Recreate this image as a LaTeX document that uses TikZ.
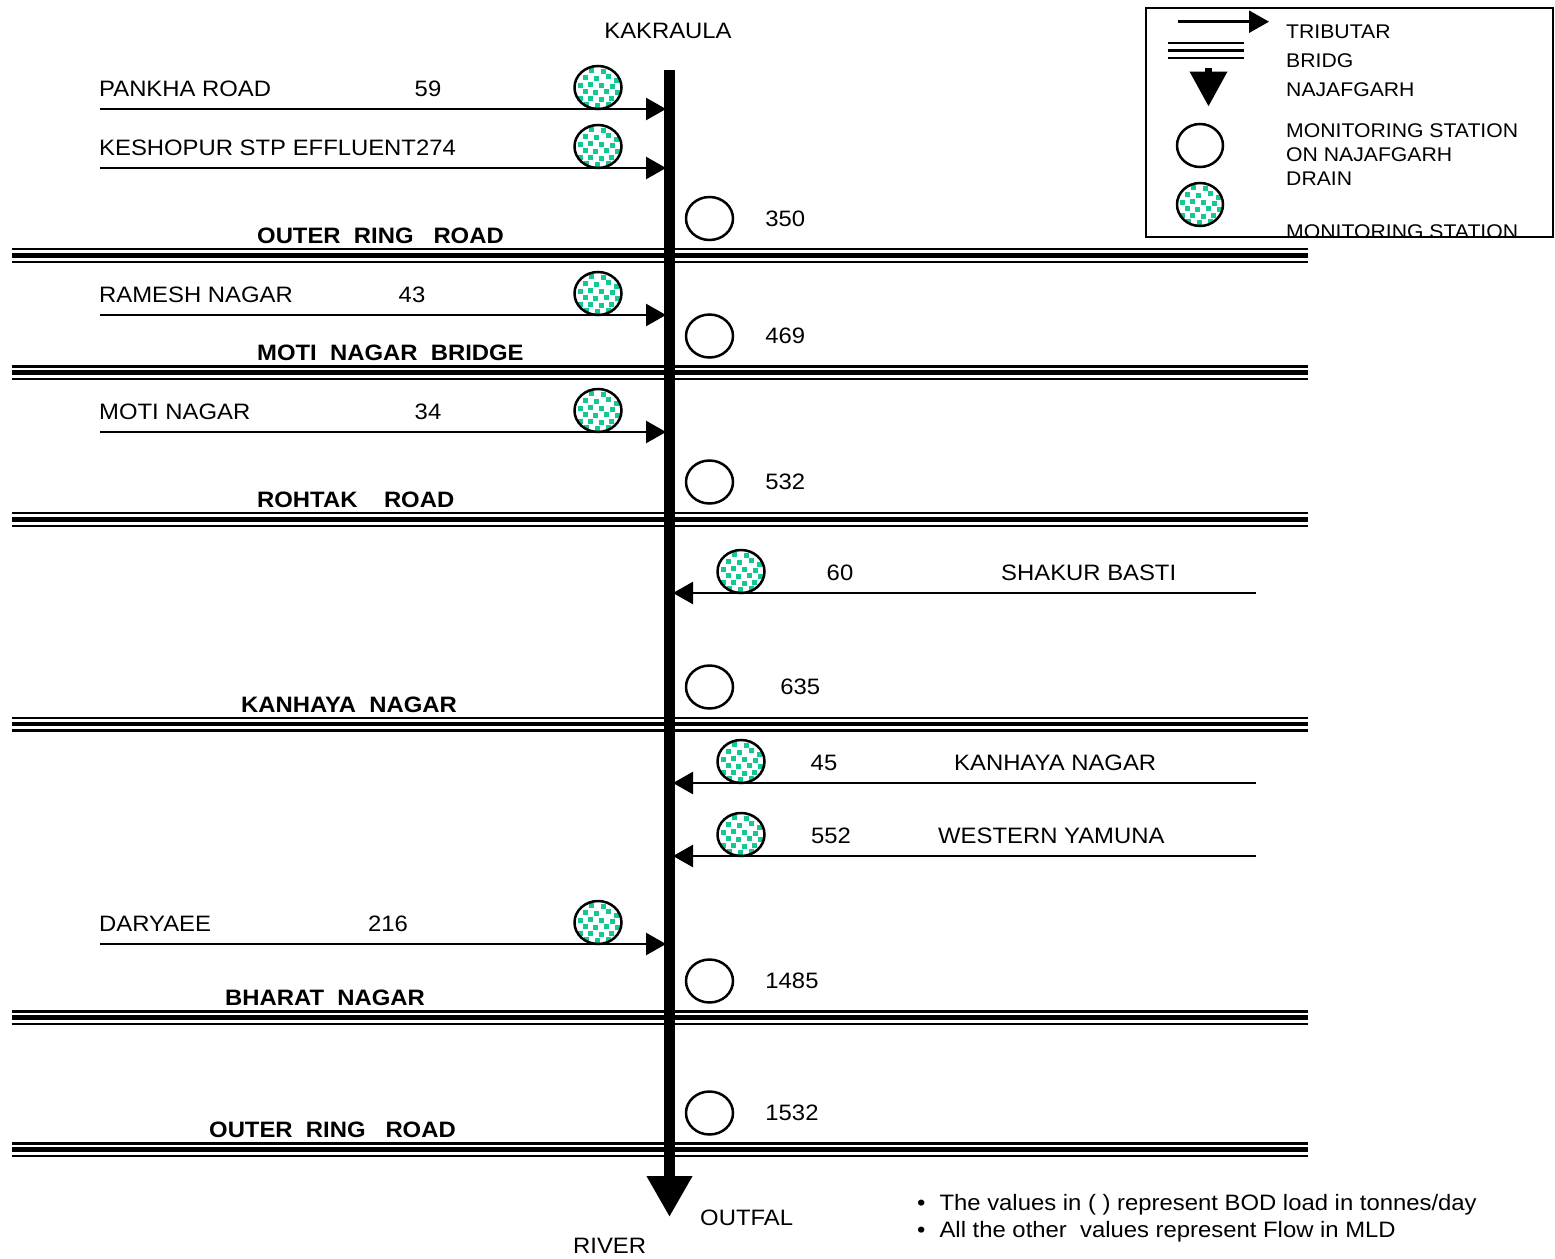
\documentclass[tikz,border=0pt]{standalone}
\usepackage{fontspec}
\setmainfont[FakeStretch=1.07]{Liberation Sans}
\usetikzlibrary{arrows.meta,shapes.geometric,positioning}
\definecolor{confetti}{RGB}{20,200,150}

\begin{document}
\begin{tikzpicture}[
    x = 1pt, y = -1pt, % pixel units, y going down
    > = {Triangle[length=20pt,width=22pt]}, % arrow head style
    shorten > = 3.5pt, % stop arrow head at the drain edge
    inner sep = 0pt,
    font = \fontsize{22.3}{26}\selectfont
    ]

    \tikzset{
    station/.style = {ellipse, draw = black, line width = 2.5pt, fill = white,
        minimum width = 47pt, minimum height = 43pt, inner sep = 0pt},
    sampled/.style = {station, path picture = {
        \foreach \dx/\dy in {-9/-20,3/-19,-15/-13,-4/-12,8/-14,16/-10,-20/-5,-10/-6,
            1/-5,12/-4,-15/1,-5/2,6/1,17/2,-20/8,-10/8,1/9,11/8,-14/14,-3/15,8/14,
            -8/19,3/20}
        \fill[confetti] ([shift={(\dx,\dy)}]path picture bounding box.center)
            rectangle +(5,5);}},
    tributary/.style = {line width = 2.5pt, ->},
    drain/.style = {line width = 11pt, shorten > = 0pt,
        -{Triangle[length=41pt,width=43pt]}},
    lbl/.style = {anchor = base west},
    num/.style = {anchor = base},
    road/.style = {anchor = base west, font = \fontsize{22.3}{26}\selectfont\bfseries},
    key/.style = {anchor = base west, font = \fontsize{19.8}{24}\selectfont}
    }

    \useasboundingbox (0,0) rectangle (1555,1258);

    % bridges
    \foreach \y in {255.5,372.7,519.5,724,1017.7,1149.7} {
    \draw[line width = 2.4pt] (12,\y-6.3) -- (1311,\y-6.3);
    \draw[line width = 4.5pt] (12,\y) -- (1311,\y);
    \draw[line width = 2.4pt] (12,\y+6.3) -- (1311,\y+6.3);
    }
    \node[road] (r1) at (257,243) {OUTER\ \ RING\ \ \ ROAD};
    \node[road] (r2) at (257,360) {MOTI\ \ NAGAR\ \ BRIDGE};
    \node[road] (r3) at (257,507) {ROHTAK\ \ \ \ ROAD};
    \node[road] (r4) at (241,712) {KANHAYA\ \ NAGAR};
    \node[road] (r5) at (225,1005) {BHARAT\ \ NAGAR};
    \node[road] (r6) at (209,1137) {OUTER\ \ RING\ \ \ ROAD};

    % najafgarh drain
    \coordinate (top) at (669.5,70);
    \coordinate (outfall) at (669.5,1217);
    \draw[drain] (top) -- (outfall);
    \node[num] (kakraula) at (668,38) {KAKRAULA};
    \node[lbl] (outfal) at (700,1225) {OUTFAL};
    \node[lbl] (river) at (573,1253) {RIVER};

    % tributaries from the left
    \coordinate (a1) at (100,109);
    \coordinate (a2) at (100,168);
    \coordinate (a3) at (100,315);
    \coordinate (a4) at (100,432);
    \coordinate (a5) at (100,944);
    \foreach \a in {a1,a2,a3,a4,a5}
    \draw[tributary] (\a) -- (\a -| top);

    \node[lbl] (t1) at (99,96) {PANKHA ROAD};
    \node[num] (f1) at (428,96) {59};
    \node[lbl] (t2) at (99,155) {KESHOPUR STP EFFLUENT274};
    \node[lbl] (t3) at (99,302) {RAMESH NAGAR};
    \node[num] (f3) at (412,302) {43};
    \node[lbl] (t4) at (99,419) {MOTI NAGAR};
    \node[num] (f4) at (428,419) {34};
    \node[lbl] (t5) at (99,931) {DARYAEE};
    \node[num] (f5) at (388,931) {216};

    % tributaries from the right
    \coordinate (b1) at (1256,593);
    \coordinate (b2) at (1256,783);
    \coordinate (b3) at (1256,856);
    \foreach \b in {b1,b2,b3}
    \draw[tributary] (\b) -- (\b -| top);

    \node[num] (f6) at (840,580) {60};
    \node[lbl] (t6) at (1001,580) {SHAKUR BASTI};
    \node[num] (f7) at (824,770) {45};
    \node[lbl] (t7) at (954,770) {KANHAYA NAGAR};
    \node[num] (f8) at (831,843) {552};
    \node[lbl] (t8) at (938,843) {WESTERN YAMUNA};

    % monitoring stations on tributaries
    \node[sampled] (s1) at (598,87.5) {};
    \node[sampled] (s2) at (598,146.5) {};
    \node[sampled] (s3) at (598,293.5) {};
    \node[sampled] (s4) at (598,410.5) {};
    \node[sampled] (s5) at (598,922.5) {};
    \node[sampled] (s6) at (741,571.5) {};
    \node[sampled] (s7) at (741,761.5) {};
    \node[sampled] (s8) at (741,834.5) {};

    % monitoring stations on the drain
    \node[station] (m1) at (709.5,218.5) {};
    \node[station] (m2) at (709.5,336) {};
    \node[station] (m3) at (709.5,482) {};
    \node[station] (m4) at (709.5,687) {};
    \node[station] (m5) at (709.5,981) {};
    \node[station] (m6) at (709.5,1113) {};
    \node[right=31pt of m1] (q1) {350};
    \node[right=31pt of m2] (q2) {469};
    \node[right=31pt of m3] (q3) {532};
    \node[right=46pt of m4] (q4) {635};
    \node[right=31pt of m5] (q5) {1485};
    \node[right=31pt of m6] (q6) {1532};

    % notes
    \node[lbl] (note1) at (917,1210) {•\hspace{14pt}The values in ( ) represent BOD load in tonnes/day};
    \node[lbl] (note2) at (917,1237) {•\hspace{14pt}All the other\ \ values represent Flow in MLD};

    % legend
    \coordinate (k1a) at (1178,21.7);
    \coordinate (k1b) at (1269,21.7);
    \draw[tributary, shorten > = 0pt] (k1a) -- (k1b);
    \draw[line width = 2.4pt] (1168,43) -- (1247,43);
    \draw[line width = 3.5pt] (1168,50.5) -- (1247,50.5);
    \draw[line width = 2.4pt] (1168,58) -- (1247,58);
    \coordinate (k3a) at (1208.5,68);
    \coordinate (k3b) at (1208.5,110);
    \draw[line width = 7pt, -{Triangle[length=35pt,width=36pt]}] (k3a) -- (k3b);
    \node[station, minimum width = 46pt] (k4) at (1200,145.5) {};
    \node[sampled, minimum width = 46pt] (k5) at (1200,204.5) {};
    \node[key] (l1) at (1286,38) {TRIBUTAR};
    \node[key] (l2) at (1286,67) {BRIDG};
    \node[key] (l3) at (1286,96) {NAJAFGARH};
    \node[key, align = left, anchor = north west] (l4) at (1286,123.5)
        {MONITORING STATION\\ON NAJAFGARH\\DRAIN};
    \begin{scope}
    \clip (1146,8) rectangle (1553,235);
    \node[key] (l5) at (1286,238) {MONITORING STATION};
    \end{scope}
    \draw[line width = 2.2pt] (1146,8) rectangle (1553,237);
\end{tikzpicture}
\end{document}
